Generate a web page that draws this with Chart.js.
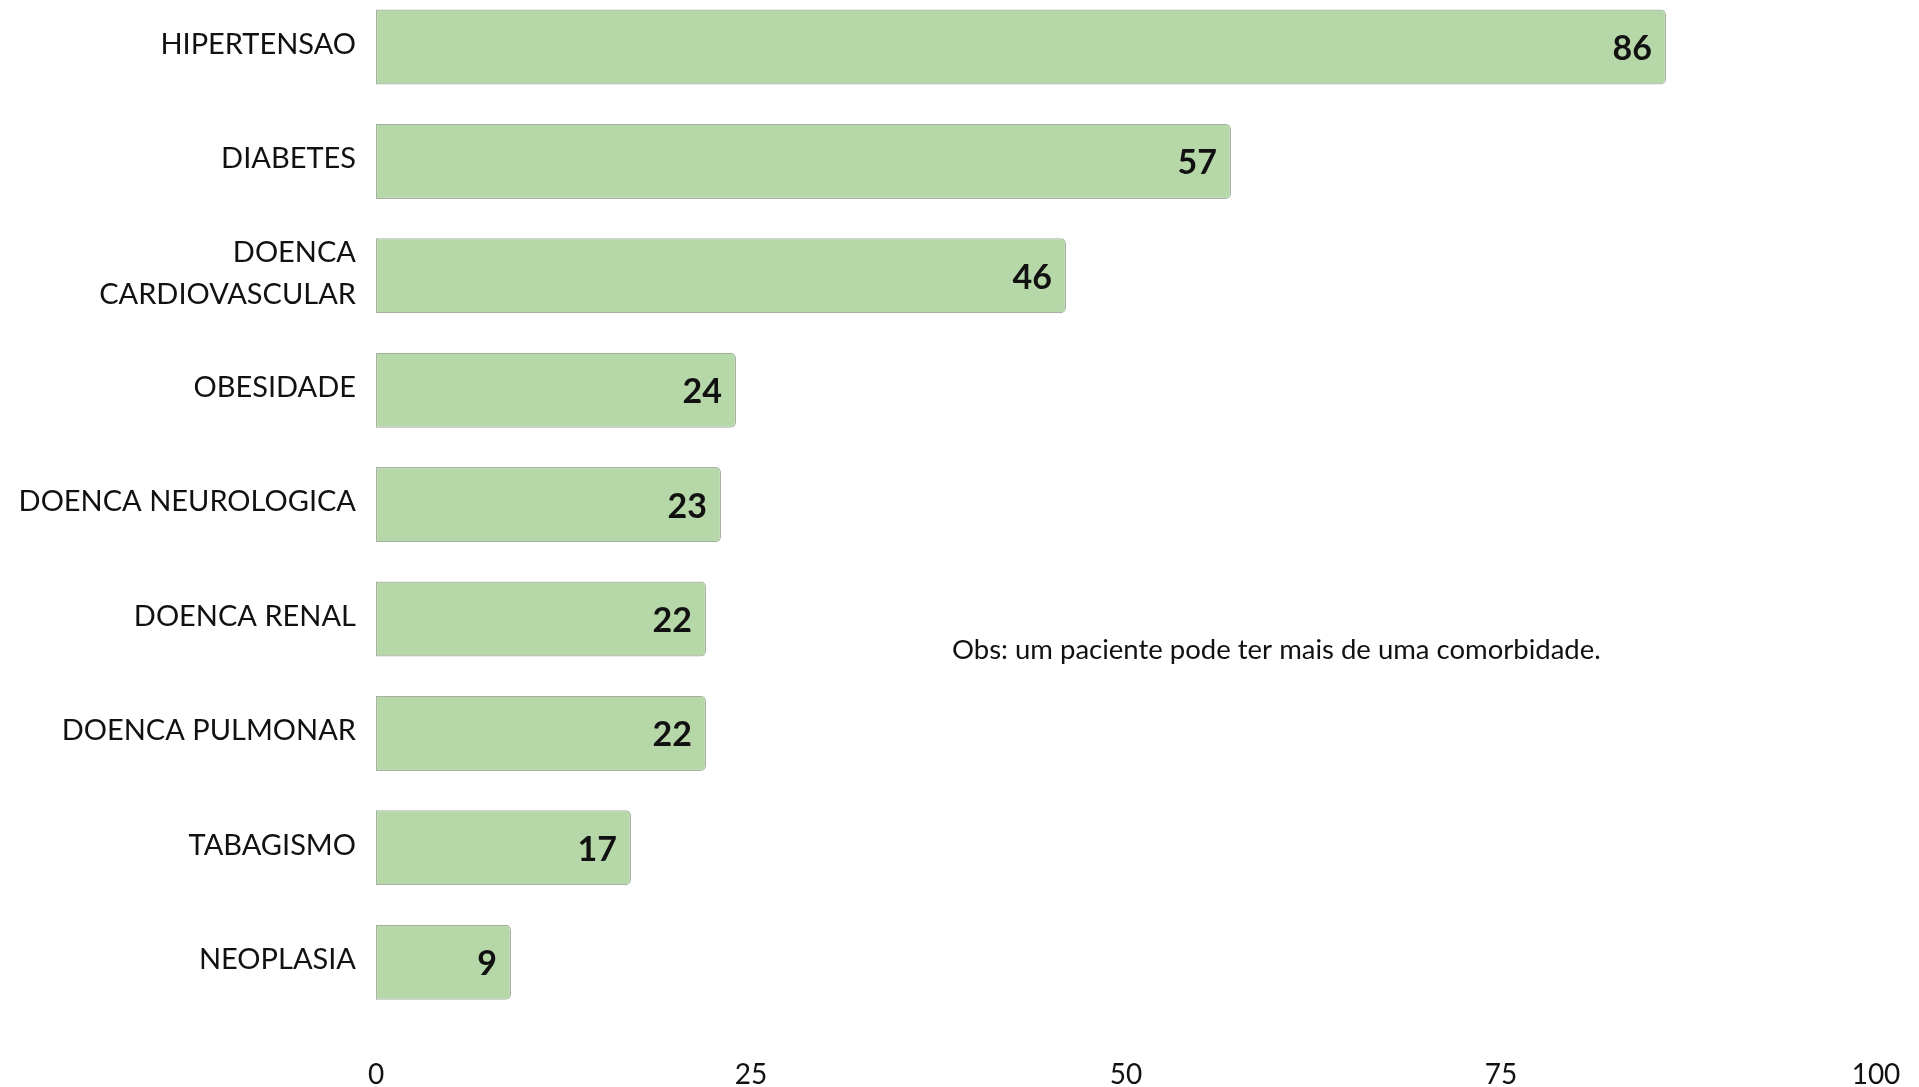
<!DOCTYPE html>
<html>
<head>
<meta charset="utf-8">
<script src="https://cdn.jsdelivr.net/npm/chart.js@4.4.1/dist/chart.umd.min.js"></script>
<style>
  html, body { margin: 0; padding: 0; background: #ffffff; overflow: hidden; width: 1919px; height: 1087px; }
  #wrap { position: absolute; left: 0; top: -20px; width: 1919px; height: 1107px; }
</style>
</head>
<body>
<div id="wrap"><canvas id="c"></canvas></div>
<script>
const categories = [
  'HIPERTENSAO',
  'DIABETES',
  ['DOENCA', 'CARDIOVASCULAR'],
  'OBESIDADE',
  'DOENCA NEUROLOGICA',
  'DOENCA RENAL',
  'DOENCA PULMONAR',
  'TABAGISMO',
  'NEOPLASIA'
];
const values = [86, 57, 46, 24, 23, 22, 22, 17, 9];
const xTicks = [0, 25, 50, 75, 100];
const note = 'Obs: um paciente pode ter mais de uma comorbidade.';

const valueLabels = {
  id: 'valueLabels',
  afterDatasetsDraw(chart) {
    const ctx = chart.ctx;
    const meta = chart.getDatasetMeta(0);
    ctx.save();
    ctx.font = 'bold 34px Lato';
    ctx.fillStyle = '#111111';
    ctx.textAlign = 'right';
    ctx.textBaseline = 'middle';
    meta.data.forEach((bar, i) => {
      ctx.fillText(String(values[i]), bar.x - 14, bar.y + 2);
    });
    ctx.restore();
  }
};

const notePlugin = {
  id: 'notePlugin',
  afterDraw(chart) {
    const ctx = chart.ctx;
    const xs = chart.scales.x, ys = chart.scales.y;
    ctx.save();
    ctx.font = '27.5px Lato';
    ctx.fillStyle = '#111111';
    ctx.textAlign = 'left';
    ctx.textBaseline = 'middle';
    ctx.fillText(note, xs.getPixelForValue(38.4), (ys.getPixelForValue(5) + ys.getPixelForValue(6)) / 2 - 26.5);
    ctx.restore();
  }
};

new Chart(document.getElementById('c'), {
  type: 'bar',
  data: {
    labels: categories,
    datasets: [{
      data: values,
      backgroundColor: '#b6d7a8',
      borderColor: 'rgba(150,165,145,0.85)',
      borderWidth: 1.2,
      borderSkipped: false,
      borderRadius: { topLeft: 0, bottomLeft: 0, topRight: 5, bottomRight: 5 },
      categoryPercentage: 1.0,
      barPercentage: 0.656
    }]
  },
  options: {
    indexAxis: 'y',
    responsive: true,
    maintainAspectRatio: false,
    animation: false,
    devicePixelRatio: 1,
    layout: { padding: { top: 9.8, right: 43, left: 0, bottom: 0 } },
    plugins: {
      legend: { display: false },
      tooltip: { enabled: false },
      title: { display: false }
    },
    scales: {
      x: {
        type: 'linear',
        min: 0,
        max: 100,
        afterBuildTicks(scale) { scale.ticks = xTicks.map(v => ({ value: v })); },
        afterFit(scale) { scale.height = 67.6; scale.paddingLeft = 0; scale.paddingRight = 0; },
        grid: { display: false, drawTicks: false },
        border: { display: false },
        ticks: {
          color: '#111111',
          font: { family: 'Lato', size: 28 },
          padding: 38.5,
          maxRotation: 0
        }
      },
      y: {
        type: 'category',
        afterFit(scale) { scale.width = 376; scale.paddingTop = 0; scale.paddingBottom = 0; },
        grid: { display: false, drawTicks: false },
        border: { display: false },
        ticks: {
          color: '#111111',
          font: { family: 'Lato', size: 29, lineHeight: 1.45 },
          padding: 20,
          labelOffset: -2.5,
          autoSkip: false
        }
      }
    }
  },
  plugins: [valueLabels, notePlugin]
});
</script>
</body>
</html>
